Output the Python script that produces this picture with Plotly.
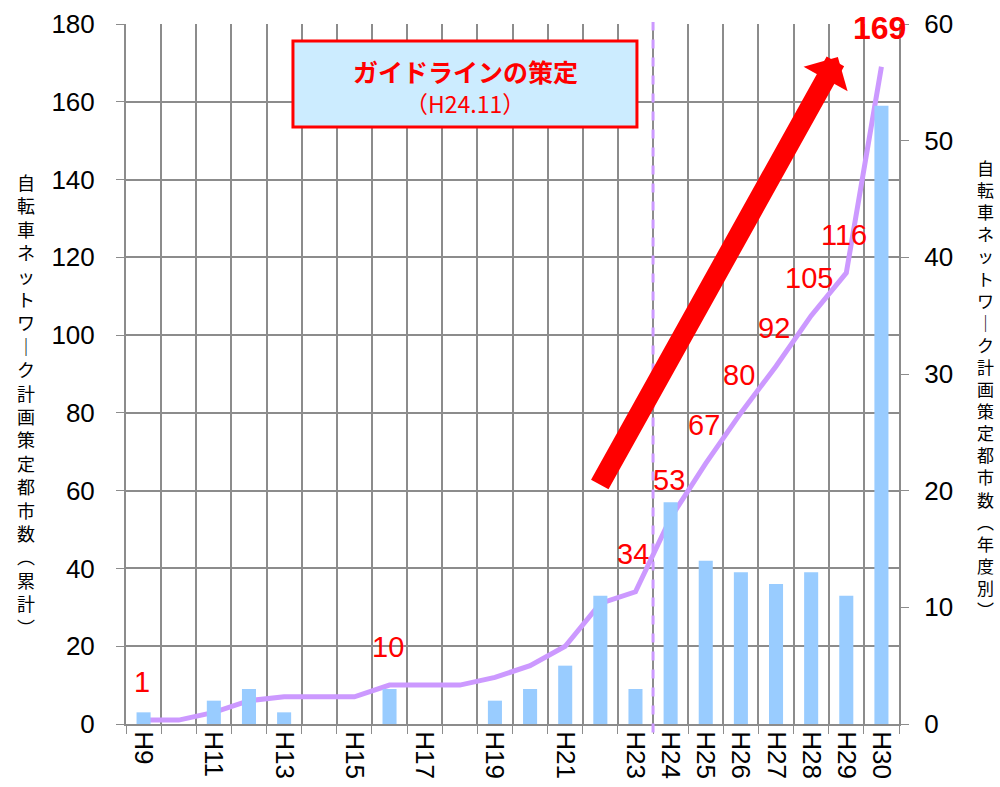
import plotly.graph_objects as go

# ---- data ----
years = ["H9", "H10", "H11", "H12", "H13", "H14", "H15", "H16", "H17", "H18", "H19",
         "H20", "H21", "H22", "H23", "H24", "H25", "H26", "H27", "H28", "H29", "H30"]
tick_text = ["H9", "", "H11", "", "H13", "", "H15", "", "H17", "", "H19",
             "", "H21", "", "H23", "H24", "H25", "H26", "H27", "H28", "H29", "H30"]
annual = [1, 0, 2, 3, 1, 0, 0, 3, 0, 0, 2, 3, 5, 11, 3, 19, 14, 13, 12, 13, 11, 53]
cumulative = [1, 1, 3, 6, 7, 7, 7, 10, 10, 10, 12, 15, 20, 31, 34, 53, 67, 80, 92, 105, 116, 169]
labelled_years = ["H9", "H16", "H23", "H24", "H25", "H26", "H27", "H28", "H29", "H30"]
left_ticks = [0, 20, 40, 60, 80, 100, 120, 140, 160, 180]
right_ticks = [0, 10, 20, 30, 40, 50, 60]
left_title = ["自", "転", "車", "ネ", "ッ", "ト", "ワ", "｜", "ク", "計", "画", "策", "定",
              "都", "市", "数", "︵", "累", "計", "︶"]
right_title = ["自", "転", "車", "ネ", "ッ", "ト", "ワ", "｜", "ク", "計", "画", "策", "定",
               "都", "市", "数", "︵", "年", "度", "別", "︶"]
guideline_title = "ガイドラインの策定"
guideline_date = "（H24.11）"

GRID = "#8c8c8c"
LINE_C = "#CC99FF"
BAR_C = "#99CCFF"
RED = "#FF0000"
TICKFONT = dict(family="Liberation Sans, Arial, sans-serif", size=26, color="#000000")
JP = "Noto Sans CJK JP, sans-serif"

fig = go.Figure()
fig.add_trace(go.Bar(x=years, y=annual, yaxis="y2", marker=dict(color=BAR_C, line=dict(width=0)),
                     showlegend=False, hoverinfo="skip"))
fig.add_trace(go.Scatter(x=years, y=cumulative, yaxis="y", mode="lines",
                         line=dict(color=LINE_C, width=5), showlegend=False))

annotations = []
# data labels
for yr, v in zip(years, cumulative):
    if yr in labelled_years:
        bold = yr == "H30"
        annotations.append(dict(
            x=yr, y=v, xref="x", yref="y", text=("<b>%d</b>" % v) if bold else str(v),
            showarrow=False, yshift=39 if bold else 38, xshift=-2, xanchor="center", yanchor="middle",
            font=dict(family="Liberation Sans, Arial, sans-serif", size=32 if bold else 29, color=RED)))

# big red arrow
annotations.append(dict(
    x=19.76, y=171.5, xref="x", yref="y", ax=12.96, ay=61.2, axref="x", ayref="y",
    showarrow=True, arrowhead=1, arrowsize=0.42, arrowwidth=20, arrowcolor=RED, text="", standoff=0))

# guideline box text
annotations.append(dict(x=0.4386, y=0.933, xref="paper", yref="paper", text="<b>%s</b>" % guideline_title,
                        showarrow=False, xanchor="center", yanchor="middle",
                        font=dict(family=JP, size=25, color=RED)))
annotations.append(dict(x=0.4386, y=0.887, xref="paper", yref="paper", text=guideline_date,
                        showarrow=False, xanchor="center", yanchor="middle",
                        font=dict(family=JP, size=23, color=RED)))

# vertical axis titles (stacked characters)
annotations.append(dict(x=(26 - 126) / 773, y=(724 - 404) / 700, xref="paper", yref="paper",
                        text="<br>".join(left_title), showarrow=False, xanchor="center", yanchor="middle",
                        font=dict(family=JP, size=18, color="#000000")))
annotations.append(dict(x=(985 - 126) / 773, y=(724 - 389) / 700, xref="paper", yref="paper",
                        text="<br>".join(right_title), showarrow=False, xanchor="center", yanchor="middle",
                        font=dict(family=JP, size=17, color="#000000")))

shapes = [
    dict(type="rect", xref="paper", yref="paper", x0=0.216, x1=0.661, y0=0.853, y1=0.9757,
         fillcolor="#CCECFF", line=dict(color=RED, width=3), layer="above"),
    dict(type="line", xref="x", yref="paper", x0=14.5, x1=14.5, y0=-0.012, y1=1.003,
         line=dict(color=LINE_C, width=3, dash="dash"), layer="above"),
]

fig.update_layout(
    width=1000, height=787, autosize=False,
    margin=dict(l=126, r=101, t=24, b=63),
    paper_bgcolor="white", plot_bgcolor="white",
    bargap=0.6,
    xaxis=dict(type="category", categoryorder="array", categoryarray=years,
               tickvals=years, ticktext=tick_text, tickson="boundaries",
               tickangle=90, tickfont=TICKFONT, ticks="outside", ticklen=8, tickcolor=GRID,
               showgrid=True, gridcolor=GRID, gridwidth=2,
               showline=True, linecolor=GRID, linewidth=2, range=[-0.5, 21.5], automargin=False),
    yaxis=dict(range=[0, 180], tickvals=left_ticks, tickfont=TICKFONT, ticks="outside", ticklen=8,
               tickcolor=GRID, showgrid=True, gridcolor=GRID, gridwidth=2, zeroline=False,
               showline=True, linecolor=GRID, linewidth=2, ticklabelstandoff=16, automargin=False),
    yaxis2=dict(range=[0, 60], tickvals=right_ticks, tickfont=TICKFONT, overlaying="y", side="right",
                ticks="outside", ticklen=8, tickcolor=GRID, showgrid=False, zeroline=False,
                showline=True, linecolor=GRID, linewidth=2, ticklabelstandoff=10, automargin=False),
    annotations=annotations,
    shapes=shapes,
)

fig.write_html("out.html", config={"displayModeBar": False},
               post_script="document.body.style.margin='0';")
